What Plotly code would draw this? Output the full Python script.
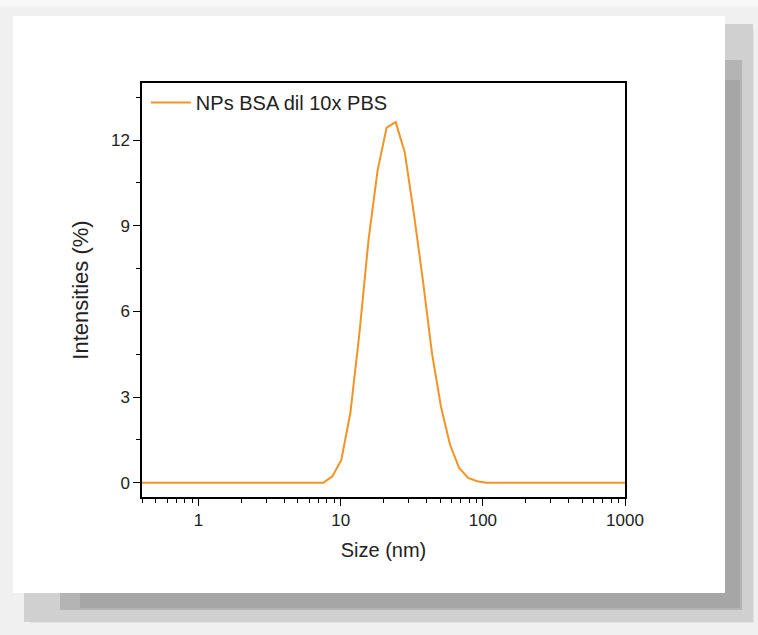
import plotly.graph_objects as go

# Data (DLS size distribution by intensity)
size_nm = [0.4, 0.4632, 0.5365, 0.6213, 0.7195, 0.8332, 0.9649, 1.117, 1.294, 1.499,
           1.736, 2.01, 2.328, 2.696, 3.122, 3.615, 4.187, 4.849, 5.615, 6.503,
           7.531, 8.721, 10.1, 11.7, 13.54, 15.69, 18.17, 21.04, 24.36, 28.21,
           32.67, 37.84, 43.82, 50.75, 58.77, 68.06, 78.82, 91.28, 105.7, 122.4,
           141.8, 164.2, 190.1, 220.2, 255.0, 295.3, 342.0, 396.1, 458.7, 531.2,
           615.1, 712.4, 825.0, 955.4, 1106.0]
intensity = [0, 0, 0, 0, 0, 0, 0, 0, 0, 0,
             0, 0, 0, 0, 0, 0, 0, 0, 0, 0,
             0, 0.22, 0.80, 2.45, 5.24, 8.5, 10.94, 12.44, 12.63, 11.58,
             9.44, 7.10, 4.55, 2.66, 1.33, 0.52, 0.17, 0.05, 0, 0,
             0, 0, 0, 0, 0, 0, 0, 0, 0, 0,
             0, 0, 0, 0, 0]
series_name = "NPs BSA dil 10x PBS"
x_title = "Size (nm)"
y_title = "Intensities (%)"

W, H = 758, 635
L, R, T, B = 142, 625, 83, 497  # plot area in pixels

def px(x):
    return (x - L) / (R - L)

def py(y):
    return (B - y) / (B - T)

fig = go.Figure()
fig.add_trace(go.Scatter(x=size_nm, y=intensity, mode="lines", name=series_name,
                         line=dict(color="#F39325", width=2), showlegend=True))

def rect(x0, y0, x1, y1, color):
    return dict(type="rect", xref="paper", yref="paper", x0=px(x0), x1=px(x1),
                y0=py(y1), y1=py(y0), fillcolor=color, line=dict(width=0), layer="below")

shapes = [
    rect(0, 0, 758, 6, "#f8f8f8"),
    rect(30, 30, 754, 623, "#e2e2e2"),
    rect(24, 24, 753, 622, "#d0d0d0"),
    rect(60, 60, 742, 610, "#b4b4b4"),
    rect(80, 80, 740, 608, "#a6a6a6"),
    rect(13, 16, 725, 593, "#ffffff"),
]

axis_font = dict(family="Liberation Sans, Arial, sans-serif", size=17, color="#222222")
title_font = dict(family="Liberation Sans, Arial, sans-serif", size=20, color="#222222")
ytitle_font = dict(family="Liberation Sans, Arial, sans-serif", size=22, color="#222222")

fig.update_layout(
    width=W, height=H,
    margin=dict(l=L, r=W - R, t=T, b=H - B, pad=0),
    paper_bgcolor="#f0f0f0",
    plot_bgcolor="rgba(0,0,0,0)",
    shapes=shapes,
    showlegend=True,
    legend=dict(x=0.008, y=1.0, xanchor="left", yanchor="top",
                bgcolor="rgba(0,0,0,0)", borderwidth=0,
                font=dict(family="Liberation Sans, Arial, sans-serif", size=20, color="#222222"),
                itemwidth=40),
    xaxis=dict(type="log", range=[-0.39794, 3], showgrid=False, zeroline=False,
               showline=True, linecolor="black", linewidth=1.5, mirror=True,
               ticks="outside", ticklen=7, tickwidth=1.3, tickcolor="black",
               tickmode="linear", tick0=0, dtick=1, exponentformat="none",
               tickfont=axis_font,
               minor=dict(ticks="outside", ticklen=4, tickwidth=1.2, tickcolor="black",
                          dtick="D1", showgrid=False),
               title=dict(text=x_title, font=title_font, standoff=14)),
    yaxis=dict(range=[-0.5, 14], showgrid=False, zeroline=False,
               showline=True, linecolor="black", linewidth=1.5, mirror=True,
               ticks="outside", ticklen=7, tickwidth=1.3, tickcolor="black",
               tickmode="linear", tick0=0, dtick=3,
               tickfont=axis_font,
               minor=dict(ticks="outside", ticklen=4, tickwidth=1.2, tickcolor="black",
                          dtick=1.5, tick0=0, showgrid=False),
               title=dict(text=y_title, font=ytitle_font, standoff=16)),
)

fig.write_html("out.html")
